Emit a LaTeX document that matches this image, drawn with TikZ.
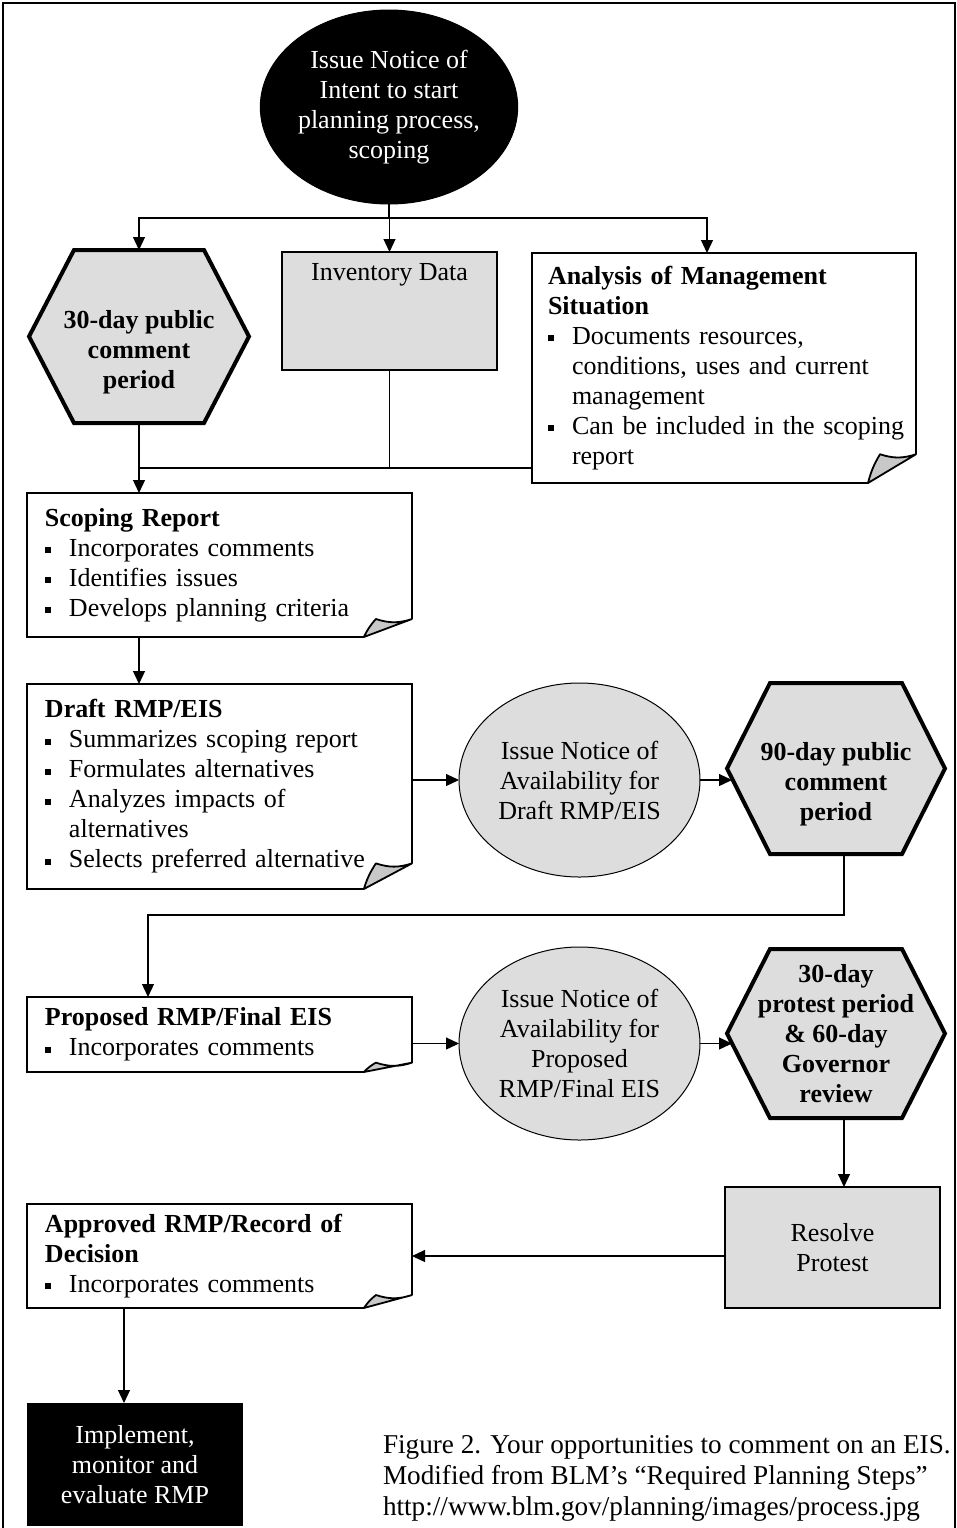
\documentclass[tikz,border=0pt]{standalone}
\usepackage{fontspec}
\setmainfont{Liberation Serif}
\usetikzlibrary{arrows.meta, positioning, calc, shapes.geometric, backgrounds}
\definecolor{boxgray}{RGB}{221,221,221}
\definecolor{foldgray}{RGB}{200,200,200}
\setlength{\parindent}{0pt}
\newcommand{\sqbul}{\rule[1.6pt]{3pt}{3pt}}
\newcommand{\bitem}[1]{\par\noindent\hangindent=12pt\hangafter=1\makebox[12pt][l]{\sqbul}#1\par}

\begin{document}
\begin{tikzpicture}[
        x=0.5pt, y=-0.5pt,
        font=\fontsize{13}{15}\selectfont,
        every node/.style={outer sep=0pt},
        link/.style={draw, line width=0.6pt},
        arr/.style={draw, line width=0.6pt, -{Triangle[length=6.5pt,width=6pt]}},
        notebox/.style={rectangle, inner xsep=9pt, inner ysep=0pt, minimum width=192.5pt, text width=174.5pt, align=left,
          execute at begin node={\raggedright\hyphenpenalty=10000\relax}},
        noteline/.style={line width=0.9pt},
        fold/.style={draw, fill=foldgray, line width=0.9pt, line join=round},
        hexbox/.style={rectangle, inner sep=0pt},
        hextext/.style={inner sep=0pt, font=\fontsize{13}{15}\selectfont\bfseries, align=center},
        hexline/.style={fill=boxgray, line width=2pt, line join=miter},
        roundbox/.style={ellipse, draw, line width=0.5pt, fill=boxgray, inner sep=0pt, align=center},
        graybox/.style={rectangle, draw, line width=0.7pt, fill=boxgray}
      ]
      \useasboundingbox (0,0) rectangle (957,1528);
      \draw[line width=1pt] (2.5,2.5) rectangle (954.5,1540);

      % Nodes
      \node[roundbox, fill=black, text=white, minimum width=120pt, minimum height=97pt] (intent) at (389,107) {Issue Notice of\\Intent to start\\planning process,\\scoping};
      \node[hexbox, minimum width=110pt, minimum height=86.5pt] (hexA) at (139,336.5) {};
      \node[hextext] (hexAt) at ($(hexA)+(0,16)$) {30-day public\\comment\\period};
      \node[graybox, minimum width=107.5pt, minimum height=59pt, text height=9pt, text depth=40pt] (inv) at (389.5,311) {Inventory Data};
      \node[notebox, inner xsep=8pt, minimum width=192pt, text width=176pt, minimum height=115pt] (ams) at (724,368) {\textbf{Analysis of Management\newline Situation}\bitem{Documents resources,\newline conditions, uses and current\newline management}\bitem{\mbox{Can be included in the scoping}\newline report}};
      \node[notebox, minimum height=72pt] (scope) at (219.5,565) {\textbf{Scoping Report}\bitem{Incorporates comments}\bitem{Identifies issues}\bitem{Develops planning criteria}};
      \node[notebox, minimum height=102.5pt] (draft) at (219.5,786.5) {\textbf{Draft RMP/EIS}\bitem{Summarizes scoping report}\bitem{Formulates alternatives}\bitem{Analyzes impacts of\newline alternatives}\bitem{Selects preferred alternative}};
      \node[roundbox, minimum width=120.5pt, minimum height=97pt] (nad) at (579.5,780) {Issue Notice of\\Availability for\\Draft RMP/EIS};
      \node[hexbox, minimum width=109pt, minimum height=85.5pt] (hexB) at (836,768.5) {};
      \node[hextext] (hexBt) at ($(hexB)+(0,16)$) {90-day public\\comment\\period};
      \node[notebox, minimum height=37.5pt] (prop) at (219.5,1034.5) {\textbf{Proposed RMP/Final EIS}\bitem{Incorporates comments}};
      \node[roundbox, minimum width=120.5pt, minimum height=96.5pt] (nap) at (579.5,1043.5) {Issue Notice of\\Availability for\\Proposed\\RMP/Final EIS};
      \node[hexbox, minimum width=109pt, minimum height=84.5pt] (hexC) at (836,1033.5) {};
      \node[hextext] (hexCt) at (hexC) {30-day\\protest period\\\& 60-day\\Governor\\review};
      \node[graybox, align=center, minimum width=107.5pt, minimum height=60.5pt] (res) at (832.5,1247.5) {Resolve\\Protest};
      \node[notebox, minimum height=52pt] (appr) at (219.5,1256) {\textbf{Approved RMP/Record of\newline Decision}\bitem{Incorporates comments}};
      \node[fill=black, text=white, align=center, minimum width=108pt, minimum height=61.5pt] (impl) at (135,1464.5) {Implement,\\monitor and\\evaluate RMP};
      \node[anchor=west, align=left, inner sep=0pt, font=\fontsize{13.6}{15.5}\selectfont] (cap) at (383,1478) {Figure 2. Your opportunities to comment on an EIS.\\Modified from BLM’s “Required Planning Steps”\\http://www.blm.gov/planning/images/process.jpg};

      % Hexagons behind their text
      \begin{pgfonlayer}{background}
        \foreach \n/\d in {hexA/22.5pt, hexB/21.5pt, hexC/21.5pt}
          \draw[hexline] (\n.west) -- ([xshift=\d]\n.north west) -- ([xshift=-\d]\n.north east) -- (\n.east) -- ([xshift=-\d]\n.south east) -- ([xshift=\d]\n.south west) -- cycle;
      \end{pgfonlayer}

      % Notes with folded corner
      \foreach \n in {ams,scope,draft,prop,appr} {
        \coordinate (\n-p1) at ($(\n.south east)!0.125!(\n.north east)$);
        \coordinate (\n-p2) at ($(\n.south east)!0.125!(\n.south west)$);
        \coordinate (\n-q) at ($(\n-p1)!0.75!(\n-p1 -| \n-p2)$);
        \draw[noteline] (\n-p2) -- (\n.south west) -- (\n.north west) -- (\n.north east) -- (\n-p1);
        \draw[fold] (\n-p2) to[bend left=8] (\n-q) to[bend right=18] (\n-p1) -- cycle;
      }

      % Edges
      \coordinate (split) at ($(intent.south)+(0,14)$);
      \draw[link] (intent.south) -- (split);
      \draw[arr] (split) -| (hexA.north);
      \draw[arr] (inv.north |- split) -- (inv.north);
      \draw[arr] (split) -| ($(ams.north)+(-17,0)$);

      \coordinate (join) at ($(hexA.south)+(0,45)$);
      \draw[link] (hexA.south) -- (join);
      \draw[link] (inv.south) -- (inv.south |- join);
      \draw[link] (ams.west |- join) -- (join);
      \draw[arr] (join) -- (join |- scope.north);
      \draw[arr] (scope.south -| join) -- (draft.north -| join);

      \draw[arr] (nad.west -| draft.east) -- (nad.west);
      \draw[arr] (nad.east) -- ($(nad.east -| hexB.west)+(5,0)$);
      \coordinate (turnB) at ($(hexB.south)+(8,61)$);
      \draw[arr] ($(hexB.south)+(8,0)$) -- (turnB) -| ($(prop.north)+(-71.5,0)$);

      \draw[arr] (nap.west -| prop.east) -- (nap.west);
      \draw[arr] (nap.east) -- ($(nap.east -| hexC.west)+(5,0)$);
      \draw[arr] ($(hexC.south)+(8,0)$) -- ($(res.north)+(11.5,0)$);
      \draw[arr] (appr.east -| res.west) -- (appr.east);
      \draw[arr] ($(appr.south)+(-95.5,0)$) -- ($(impl.north)+(-11,0)$);
    \end{tikzpicture}
\end{document}
